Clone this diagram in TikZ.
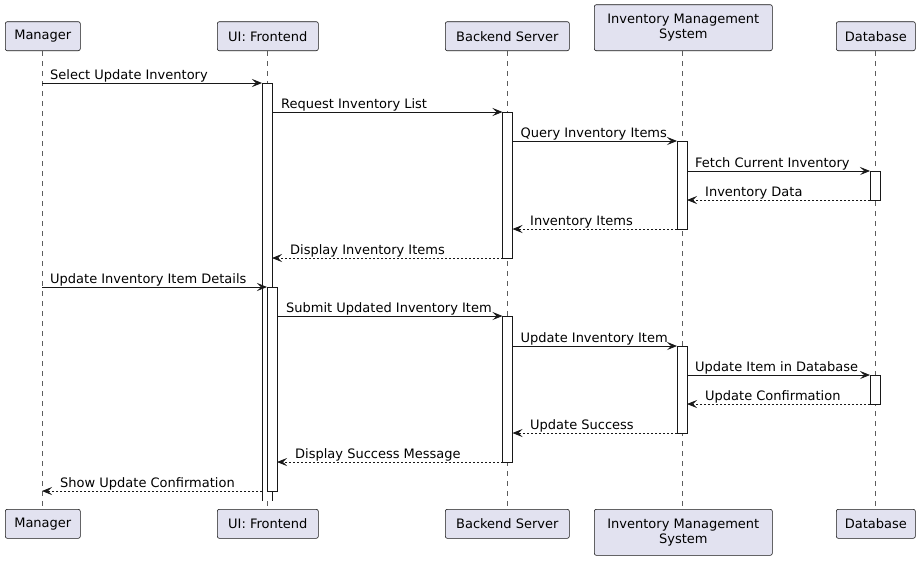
\documentclass[tikz,border=0pt]{standalone}
\usepackage{fontspec}
\setmainfont{DejaVu Sans}
\usetikzlibrary{arrows.meta}
\definecolor{partfill}{HTML}{E2E2F0}
\definecolor{partline}{HTML}{181818}
\tikzset{
  part/.style={draw=partline, fill=partfill, rounded corners=2pt, line width=0.6pt, inner sep=0pt, minimum height=29pt, align=center, font=\fontsize{13}{15}\selectfont},
  parttall/.style={part, minimum height=46pt},
  lifeline/.style={draw=partline!70, line width=0.6pt, dash pattern=on 5pt off 5pt},
  actbar/.style={draw=partline, fill=white, line width=0.8pt},
  msg/.style={draw=partline, line width=0.8pt, -{Stealth[length=10pt,width=8pt,inset=4pt]}},
  ret/.style={msg, dash pattern=on 2pt off 2pt},
  lbl/.style={inner sep=0pt, anchor=base west, font=\fontsize{13}{15}\selectfont, text=black}
}
\begin{document}
\begin{tikzpicture}[x=1pt,y=-1pt]
\useasboundingbox (0,0) rectangle (920,560);
% participants top
\node[part, minimum width=75pt, anchor=south west] (mgrT) at (5,51) {Manager};
\node[part, minimum width=101pt, anchor=south west] (uiT) at (217,51) {UI: Frontend};
\node[part, minimum width=124pt, anchor=south west] (beT) at (445,51) {Backend Server};
\node[parttall, minimum width=178pt, anchor=south west] (imsT) at (594,51) {Inventory Management\\System};
\node[part, minimum width=79pt, anchor=south west] (dbT) at (836,51) {Database};
% participants bottom
\node[part, minimum width=75pt, anchor=north west] (mgrB) at (5,509) {Manager};
\node[part, minimum width=101pt, anchor=north west] (uiB) at (217,509) {UI: Frontend};
\node[part, minimum width=124pt, anchor=north west] (beB) at (445,509) {Backend Server};
\node[parttall, minimum width=178pt, anchor=north west] (imsB) at (594,509) {Inventory Management\\System};
\node[part, minimum width=79pt, anchor=north west] (dbB) at (836,509) {Database};
% lifelines
\draw[lifeline] (42,51) -- (42,509);
\draw[lifeline] (267,51) -- (267,509);
\draw[lifeline] (507.5,51) -- (507.5,509);
\draw[lifeline] (682,51) -- (682,509);
\draw[lifeline] (875,51) -- (875,509);
% activation bars
\fill[white] (262,83) rectangle (272,501);
\draw[partline, line width=0.8pt] (262,501) -- (262,83) -- (272,83) -- (272,501);
\draw[actbar] (267,287) rectangle (277,491);
\draw[actbar] (502.5,112) rectangle (512.5,258);
\draw[actbar] (677,141) rectangle (687,229);
\draw[actbar] (870,171) rectangle (880,200);
\draw[actbar] (502.5,316) rectangle (512.5,462);
\draw[actbar] (677,346) rectangle (687,433);
\draw[actbar] (870,375) rectangle (880,404);
% message end points
\coordinate (m1a) at (42,83);    \coordinate (m1b) at (262,83);
\coordinate (m2a) at (272,112);  \coordinate (m2b) at (502.5,112);
\coordinate (m3a) at (512.5,141);\coordinate (m3b) at (677,141);
\coordinate (m4a) at (687,171);  \coordinate (m4b) at (870,171);
\coordinate (m5a) at (870,200);  \coordinate (m5b) at (687,200);
\coordinate (m6a) at (677,229);  \coordinate (m6b) at (512.5,229);
\coordinate (m7a) at (502.5,258);\coordinate (m7b) at (272,258);
\coordinate (m8a) at (42,287);   \coordinate (m8b) at (267,287);
\coordinate (m9a) at (277,316);  \coordinate (m9b) at (502.5,316);
\coordinate (m10a) at (512.5,346);\coordinate (m10b) at (677,346);
\coordinate (m11a) at (687,375); \coordinate (m11b) at (870,375);
\coordinate (m12a) at (870,404); \coordinate (m12b) at (687,404);
\coordinate (m13a) at (677,433); \coordinate (m13b) at (512.5,433);
\coordinate (m14a) at (502.5,462);\coordinate (m14b) at (277,462);
\coordinate (m15a) at (262,491); \coordinate (m15b) at (42,491);
% messages
\draw[msg] (m1a) -- (m1b);   \node[lbl] (l1) at (50,79) {Select Update Inventory};
\draw[msg] (m2a) -- (m2b);   \node[lbl] (l2) at (281,108) {Request Inventory List};
\draw[msg] (m3a) -- (m3b);   \node[lbl] (l3) at (520.5,137) {Query Inventory Items};
\draw[msg] (m4a) -- (m4b);   \node[lbl] (l4) at (695,167) {Fetch Current Inventory};
\draw[ret] (m5a) -- (m5b);   \node[lbl] (l5) at (705,196) {Inventory Data};
\draw[ret] (m6a) -- (m6b);   \node[lbl] (l6) at (530,225) {Inventory Items};
\draw[ret] (m7a) -- (m7b);   \node[lbl] (l7) at (290,254) {Display Inventory Items};
\draw[msg] (m8a) -- (m8b);   \node[lbl] (l8) at (50,283) {Update Inventory Item Details};
\draw[msg] (m9a) -- (m9b);   \node[lbl] (l9) at (286,312) {Submit Updated Inventory Item};
\draw[msg] (m10a) -- (m10b); \node[lbl] (l10) at (520.5,342) {Update Inventory Item};
\draw[msg] (m11a) -- (m11b); \node[lbl] (l11) at (695,371) {Update Item in Database};
\draw[ret] (m12a) -- (m12b); \node[lbl] (l12) at (705,400) {Update Confirmation};
\draw[ret] (m13a) -- (m13b); \node[lbl] (l13) at (530,429) {Update Success};
\draw[ret] (m14a) -- (m14b); \node[lbl] (l14) at (295,458) {Display Success Message};
\draw[ret] (m15a) -- (m15b); \node[lbl] (l15) at (60,487) {Show Update Confirmation};
\end{tikzpicture}
\end{document}
